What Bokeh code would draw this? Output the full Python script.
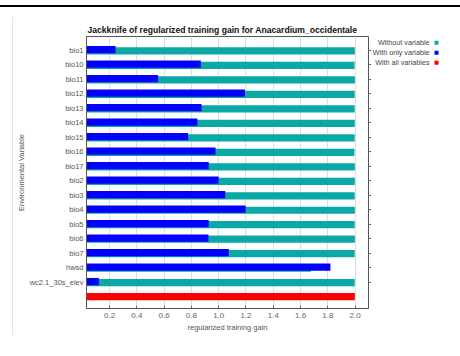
from bokeh.plotting import figure
from bokeh.models import (ColumnDataSource, FixedTicker, LinearAxis, Range1d,
                          NumeralTickFormatter, Div)
from bokeh.layouts import row, column
from bokeh.core.properties import value
from bokeh.transform import dodge
from bokeh.embed import file_html
from bokeh.resources import INLINE

# ---- data ----
variables = ["bio1", "bio10", "bio11", "bio12", "bio13", "bio14", "bio15", "bio16",
             "bio17", "bio2", "bio3", "bio4", "bio5", "bio6", "bio7", "hwsd",
             "wc2.1_30s_elev"]
with_only = [0.244, 0.869, 0.556, 1.192, 0.874, 0.844, 0.776, 0.977,
             0.927, 0.999, 1.048, 1.197, 0.927, 0.925, 1.074, 1.819, 0.122]
without_var = [1.998, 1.996, 1.998, 1.997, 1.997, 1.998, 1.997, 1.995,
               1.998, 1.998, 1.997, 1.998, 1.997, 1.998, 1.997, 1.677, 1.997]
all_vars = 1.998
x_ticks = [0.2, 0.4, 0.6, 0.8, 1.0, 1.2, 1.4, 1.6, 1.8, 2.0]
title_text = "Jackknife of regularized training gain for Anacardium_occidentale"
legend_labels = ["Without variable", "With only variable", "With all variables"]

TEAL = "#0aa9a6"
BLUE = "#0000ff"
RED = "#ff0000"
FONT = "Liberation Sans"

n = len(variables)
rows = list(range(n, 0, -1))  # bio1 at top, all-variables row at 0

src = ColumnDataSource(dict(y=rows, var=variables, only=with_only, without=without_var))

B_LEFT, B_RIGHT, B_TOP, B_BOTTOM = 72, 3, 29, 40
F_W, F_H = 282, 272
p = figure(frame_width=F_W, frame_height=F_H, output_backend="svg",
           toolbar_location=None,
           x_range=Range1d(0.031, 2.098), y_range=Range1d(-0.82, n + 0.95),
           min_border_left=B_LEFT, min_border_right=B_RIGHT,
           min_border_top=B_TOP, min_border_bottom=B_BOTTOM)
p.background_fill_color = "white"
p.border_fill_color = "white"
p.outline_line_color = "#555555"
p.outline_line_width = 1

# title
p.title.text = title_text
p.title.text_font = FONT
p.title.text_font_size = "8.6px"
p.title.text_font_style = "bold"
p.title.text_color = "#111111"
p.title.align = "left"
p.title.offset = 1
p.title.standoff = 3

# bars
p.hbar(y=dodge("y", -0.04, range=p.y_range), left=0, right="without", height=0.5,
       source=src, color=TEAL, line_color=None)
p.hbar(y=dodge("y", 0.04, range=p.y_range), left=0, right="only", height=0.5,
       source=src, color=BLUE, line_color=None)
p.hbar(y=[0], left=0, right=[all_vars], height=0.5, color=RED, line_color=None)

# x axis
xa = p.xaxis[0]
xa.ticker = FixedTicker(ticks=x_ticks)
xa.formatter = NumeralTickFormatter(format="0.0")
xa.minor_tick_line_color = None
xa.major_tick_in = 3
xa.major_tick_out = 0
xa.major_tick_line_color = "#666666"
xa.axis_line_color = "#555555"
xa.major_label_text_font = FONT
xa.major_label_text_font_size = "8px"
xa.major_label_text_color = "#666666"
xa.major_label_standoff = 4
xa.axis_label = "regularized training gain"
xa.axis_label_text_font = FONT
xa.axis_label_text_font_size = "7.5px"
xa.axis_label_text_font_style = "normal"
xa.axis_label_text_color = "#555555"
xa.axis_label_standoff = 2

# y axis
ya = p.yaxis[0]
ya.ticker = FixedTicker(ticks=rows)
ya.major_label_overrides = {r: v for r, v in zip(rows, variables)}
ya.minor_tick_line_color = None
ya.major_tick_in = 0
ya.major_tick_out = 0
ya.axis_line_color = "#555555"
ya.major_label_text_font = FONT
ya.major_label_text_font_size = "7.5px"
ya.major_label_text_color = "#555555"
ya.major_label_standoff = 3
ya.axis_label = "Environmental Variable"
ya.axis_label_text_font = FONT
ya.axis_label_text_font_size = "7.5px"
ya.axis_label_text_font_style = "normal"
ya.axis_label_text_color = "#555555"
ya.axis_label_standoff = 1

# right axis: tick marks only
ra = LinearAxis(ticker=FixedTicker(ticks=rows), major_label_text_font_size="0px",
                major_label_text_color=None, major_label_standoff=0,
                major_tick_in=0, major_tick_out=3,
                minor_tick_line_color=None, axis_line_color=None,
                major_tick_line_color="#666666")
p.add_layout(ra, "right")

# grids
p.ygrid.grid_line_color = None
p.xgrid.ticker = FixedTicker(ticks=x_ticks)
p.xgrid.grid_line_color = "#dddddd"
p.xgrid.grid_line_width = 1

# ---- legend panel (text, then coloured square); data units = pixels ----
L_W = 88
leg = figure(frame_width=L_W, frame_height=F_H, output_backend="svg",
             toolbar_location=None, title=None,
             x_range=Range1d(0, L_W), y_range=Range1d(B_TOP + F_H, B_TOP),
             x_axis_type=None, y_axis_type=None,
             min_border_left=0, min_border_right=0,
             min_border_top=B_TOP, min_border_bottom=B_BOTTOM)
leg.outline_line_color = None
leg.grid.grid_line_color = None
leg_y = [35.3 + 10 * i for i in range(len(legend_labels))]
leg_src = ColumnDataSource(dict(label=legend_labels, y=leg_y,
                                tx=[58] * len(legend_labels),
                                sx=[65] * len(legend_labels),
                                color=[TEAL, BLUE, RED]))
leg.text(x="tx", y="y", text="label", source=leg_src, text_font=value(FONT),
         text_font_size="7.2px", text_color="#444444", text_align="right",
         text_baseline="middle")
leg.scatter(x="sx", y="y", source=leg_src, marker="square", size=4,
            fill_color="color", line_color=None)

# ---- page decorations ----
top_rule = Div(text="", width=460, height=2, margin=(5, 0, 0, 0),
               styles={"background-color": "black"})
side_rule = Div(text="", width=1, height=318, margin=(10, 0, 0, 12),
                styles={"background-color": "#e6e6e6"})

layout = column(top_rule, row(side_rule, p, leg, spacing=0), spacing=0)

open("out.html", "w").write(file_html(layout, INLINE))
